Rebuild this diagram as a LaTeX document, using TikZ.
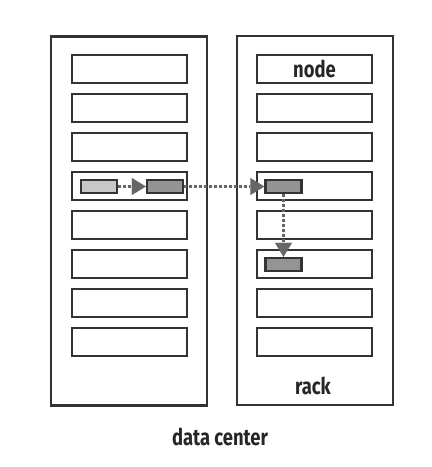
\documentclass[tikz,border=0pt]{standalone}
\usepackage{fontspec}
\newfontfamily\labelfont{Fira Sans}[FakeStretch=0.8]
\usetikzlibrary{arrows.meta}

\begin{document}
\begin{tikzpicture}[x=1pt,y=-1pt]

  \tikzstyle{rack}=[rectangle,draw=black!80,line width=2.8pt,
                    minimum width=156pt,minimum height=369pt]
  \tikzstyle{slot}=[rectangle,draw=black!80,line width=2.8pt,fill=white,
                    minimum width=115pt,minimum height=28pt,inner sep=0pt,
                    font=\labelfont\bfseries\fontsize{23}{23}\selectfont]
  \tikzstyle{light block}=[rectangle,draw=black!80,line width=2.4pt,
                    fill=black!22,minimum width=36pt,minimum height=13pt,inner sep=0pt]
  \tikzstyle{dark block}=[light block,fill=black!42]
  \tikzstyle{hop}=[-{Triangle[length=14pt,width=17pt,line width=0.1pt]},
                   draw=black!60,fill=black!60,line width=2.8pt,
                   dash pattern=on 2.6pt off 2.4pt]
  \tikzstyle{caption}=[font=\labelfont\bfseries\fontsize{23}{23}\selectfont,
                       text=black!85]

  \useasboundingbox (0,0) rectangle (432,467);

  % racks
  \node [rack] (rackA) at (129,221)   {};
  \node [rack] (rackB) at (315,220.5) {};
  \node [caption] (racklabel) at (313,386) {rack};
  \node [caption] (dclabel)   at (220,437) {data center};

  % node slots
  \foreach \i in {1,...,8} {
    \node [slot] (a\i) at (129.5,30+39*\i) {};
    \node [slot] (b\i) at (314.5,30+39*\i) {};
  }
  \node [caption] at (b1) {node};

  % blocks and their copies
  \node [light block] (src)  at (99,186.5)    {};
  \node [dark block]  (cp1)  at (165,186.5)   {};
  \node [dark block]  (cp2)  at (283.5,186.5) {};
  \node [dark block]  (cp3)  at (283.5,264.5) {};

  \draw [hop] (src) -- (cp1);
  \draw [hop] (cp1) -- (cp2);
  \draw [hop] (cp2) -- (cp3);
\end{tikzpicture}
\end{document}
